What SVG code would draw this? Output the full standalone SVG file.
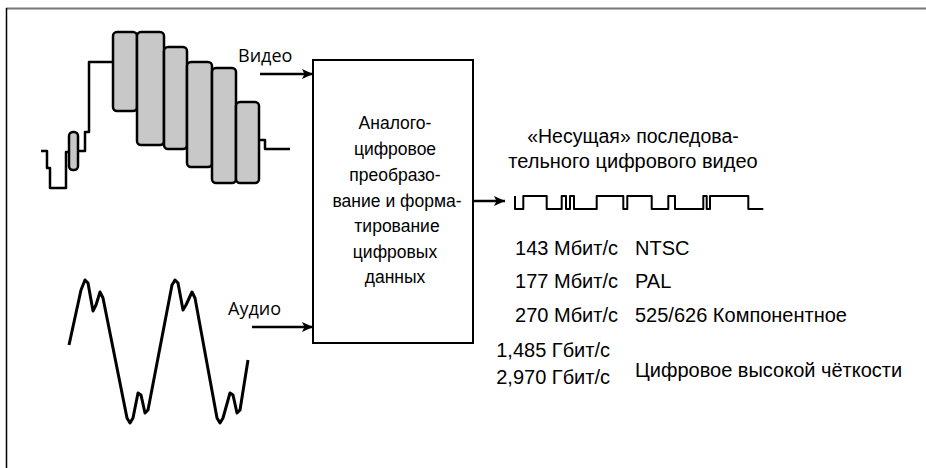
<svg xmlns="http://www.w3.org/2000/svg" width="926" height="468" viewBox="0 0 926 468">
<style>
.wave{fill:none;stroke:#000;stroke-width:2.5;stroke-linejoin:round;stroke-linecap:butt}
.pulse{fill:#c8c8c8;stroke:#000;stroke-width:2.5}
.conn{fill:none;stroke:#000;stroke-width:2.5}
.lbl{font-family:"Open Sans","Noto Sans",sans-serif;font-size:18px;fill:#000}
.t{font-family:"Liberation Sans",Arial,sans-serif;font-size:20px;fill:#000}
.bt{font-family:"Liberation Sans",Arial,sans-serif;font-size:17.5px;fill:#000;text-anchor:middle}
</style>
<defs>
<marker id="ah" markerUnits="userSpaceOnUse" markerWidth="11" markerHeight="10" refX="11" refY="5" orient="auto">
<path d="M0,0 L11,5 L0,10 L2.5,5 z" fill="#000"/>
</marker>
</defs>
<rect width="926" height="468" fill="#fff"/>
<g id="frame">
<line x1="6" y1="8.5" x2="926" y2="8.5" stroke="#777" stroke-width="2"/>
<line x1="6.5" y1="8" x2="6.5" y2="468" stroke="#000" stroke-width="1.5"/>
</g>
<g id="video-signal">
<path class="wave" d="M41,151 H47 V168 H50 V188 H66 V152 H69"/>
<rect class="pulse" x="69" y="132" width="9" height="38" rx="4"/>
<path class="wave" d="M78,151 H85 V132 H89 V62 H113"/>
<rect class="pulse" x="113" y="32" width="24" height="79" rx="4"/>
<rect class="pulse" x="137" y="32" width="27" height="113" rx="4"/>
<rect class="pulse" x="164" y="47" width="23" height="102" rx="4"/>
<rect class="pulse" x="187" y="62" width="25" height="105" rx="4"/>
<rect class="pulse" x="212" y="68" width="24" height="115" rx="4"/>
<rect class="pulse" x="236" y="102" width="23" height="81" rx="4"/>
<path class="wave" d="M259,140 H265 V149 H290"/>
<text class="lbl" x="238" y="62">Видео</text>
</g>
<g id="audio-signal">
<polyline class="wave" style="stroke-width:3" points="69,345 81,290 85,280 88,283 93,311 96,305 100,292 103,298 127,418 130,423 133,418 138,393 141,395 145,413 148,410 172,285 175,280 178,283 183,310 186,305 192,292 195,298 217,418 220,423 223,418 230,393 233,395 237,413 240,410 248,360"/>
<text class="lbl" x="228" y="315">Аудио</text>
</g>
<g id="converter">
<rect x="313" y="60" width="160" height="283" fill="#fff" stroke="#000" stroke-width="2"/>
<text class="bt" x="395" y="129">Аналого-</text>
<text class="bt" x="395" y="155">цифровое</text>
<text class="bt" x="395" y="181">преобразо-</text>
<text class="bt" x="397" y="207">вание и форма-</text>
<text class="bt" x="397" y="232">тирование</text>
<text class="bt" x="395" y="258">цифровых</text>
<text class="bt" x="395" y="283">данных</text>
</g>
<g id="serial-output">
<text class="t" x="633" y="143" text-anchor="middle" style="font-size:19.5px">«Несущая» последова-</text>
<text class="t" x="633" y="168" text-anchor="middle">тельного цифрового видео</text>
<path class="wave" style="stroke-width:2" d="M515,196 V209 H523.3 V196 H546.7 V209 H561.7 V196 H566 V209 H570 V196 H574 V209 H596.7 V196 H623.3 V209 H627.3 V196 H651.7 V209 H668.3 V196 H675 V209 H703.3 V196 H706.7 V209 H710 V196 H748.3 V209 H763.3"/>
</g>
<g id="rates">
<text class="t" x="618" y="255" text-anchor="end">143 Мбит/с</text>
<text class="t" x="635" y="255">NTSC</text>
<text class="t" x="618" y="288" text-anchor="end">177 Мбит/с</text>
<text class="t" x="635" y="288">PAL</text>
<text class="t" x="618" y="322" text-anchor="end">270 Мбит/с</text>
<text class="t" x="635" y="322">525/626 Компонентное</text>
<text class="t" x="610" y="357" text-anchor="end">1,485 Гбит/с</text>
<text class="t" x="610" y="384" text-anchor="end">2,970 Гбит/с</text>
<text class="t" x="635" y="377">Цифровое высокой чёткости</text>
</g>
<g id="connectors">
<line class="conn" x1="260" y1="74" x2="313" y2="74" marker-end="url(#ah)"/>
<line class="conn" x1="252" y1="327" x2="313" y2="327" marker-end="url(#ah)"/>
<line class="conn" x1="473" y1="201" x2="505" y2="201" marker-end="url(#ah)"/>
</g>
</svg>
